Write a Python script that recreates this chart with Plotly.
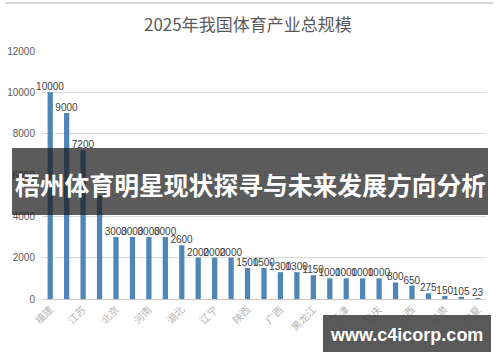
import plotly.graph_objects as go

title_text = "2025年我国体育产业总规模"
banner_text = "梧州体育明星现状探寻与未来发展方向分析"
watermark_text = "www.c4icorp.com"

# 27 bars; only every other category label is displayed in the reference
values = [10000, 9000, 7200, 5000, 3000, 3000, 3000, 3000, 2600, 2000, 2000, 2000,
          1500, 1500, 1300, 1300, 1150, 1000, 1000, 1000, 1000, 800, 650, 275, 150, 105, 23]
value_labels = ["10000", "9000", "7200", "", "3000", "3000", "3000", "3000", "2600",
                "2000", "2000", "2000", "1500", "1500", "1300", "1300", "1150", "1000",
                "1000", "1000", "1000", "800", "650", "275", "150", "105", "23"]
tick_labels = ["福建", "江苏", "北京", "河南", "湖北", "辽宁", "陕西",
               "广西", "黑龙江", "天津", "重庆", "山西", "甘肃", "宁夏"]
y_ticks = [0, 2000, 4000, 6000, 8000, 10000, 12000]
y_tick_text = ["0", "2000", "4000", "6000", "8000", "10000", "12000"]

x_pos = list(range(len(values)))
tick_pos = x_pos[::2]

fig = go.Figure()
fig.add_trace(go.Bar(
    x=x_pos, y=values,
    marker=dict(color="#4f86b8", line=dict(width=0)),
    text=value_labels, textposition="outside", constraintext="none",
    cliponaxis=False,
    textfont=dict(family="Liberation Sans, Arial", size=10, color="#404040"),
    width=0.32,
))

fig.update_layout(
    width=500, height=362,
    margin=dict(l=42, r=14, t=51, b=63),
    paper_bgcolor="white", plot_bgcolor="white",
    showlegend=False,
    font=dict(family="Noto Sans CJK SC, Liberation Sans", color="#595959"),
)
fig.update_xaxes(
    range=[-0.5, 26.5], tickmode="array", tickvals=tick_pos, ticktext=tick_labels,
    tickangle=-45, tickfont=dict(size=10, color="#b4b4b4", family="Noto Sans CJK SC"),
    showgrid=False, zeroline=False, showline=False, ticks="", automargin=False,
    ticklabelstandoff=2,
)
fig.update_yaxes(
    range=[0, 12000], tickmode="array", tickvals=y_ticks, ticktext=y_tick_text,
    tickfont=dict(size=10, color="#595959", family="Liberation Sans, Arial"),
    showgrid=True, gridcolor="#d9d9d9", gridwidth=1,
    zeroline=True, zerolinecolor="#c8c8c8", zerolinewidth=1,
    showline=False, ticks="", ticklabelstandoff=6, automargin=False,
)

def px_x(px):
    return (px - 42) / 444.0

def px_y(py):
    return (299 - py) / 248.0

shapes = [
    # top frame line
    dict(type="line", xref="paper", yref="paper", x0=px_x(5), x1=px_x(493),
         y0=px_y(3), y1=px_y(3), line=dict(color="#d6d6d6", width=2)),
    # banner
    dict(type="rect", xref="paper", yref="paper", x0=px_x(12), x1=px_x(488),
         y0=px_y(215), y1=px_y(148), fillcolor="rgba(30,30,30,0.73)",
         line=dict(width=0), layer="above"),
    # watermark box
    dict(type="rect", xref="paper", yref="paper", x0=px_x(323), x1=px_x(491),
         y0=px_y(352), y1=px_y(315), fillcolor="rgba(75,75,75,0.92)",
         line=dict(width=0), layer="above"),
]
fig.update_layout(shapes=shapes)

fig.add_annotation(text=title_text, xref="paper", yref="paper", x=px_x(248), y=px_y(23),
                   showarrow=False, xanchor="center", yanchor="middle",
                   font=dict(size=17, color="#595959", family="Noto Sans CJK SC"))
fig.add_annotation(text="<b>" + banner_text + "</b>", xref="paper", yref="paper",
                   x=px_x(250), y=px_y(184), showarrow=False, xanchor="center", yanchor="middle",
                   font=dict(size=24.8, color="white", family="Noto Sans CJK SC"))
fig.add_annotation(text="<b>" + watermark_text + "</b>", xref="paper", yref="paper",
                   x=px_x(406), y=px_y(335), showarrow=False, xanchor="center", yanchor="middle",
                   font=dict(size=18, color="white", family="Liberation Sans, Arial"))

fig.write_html("out.html", config={"displayModeBar": False},
               post_script="document.body.style.margin='0';")
